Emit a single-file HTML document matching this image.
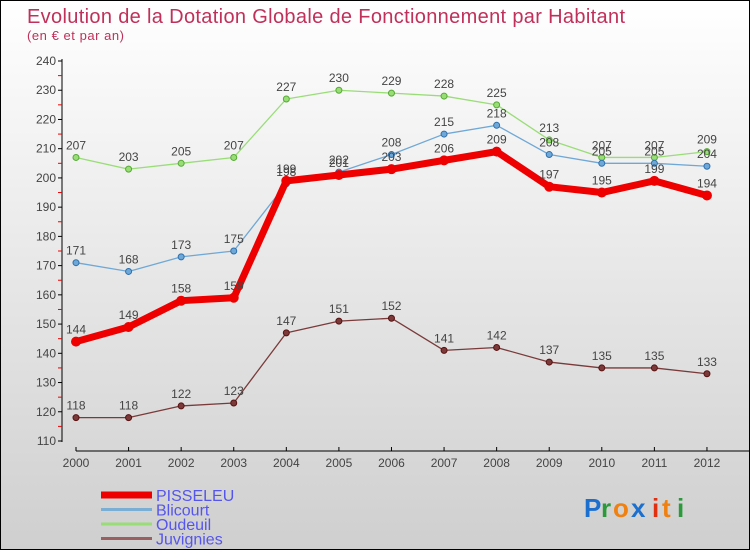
<!DOCTYPE html>
<html><head><meta charset="utf-8"><style>
body{margin:0}
#c{width:750px;height:550px;position:relative;box-sizing:border-box;border:1px solid #000;background:linear-gradient(#ffffff,#cfcfcf);font-family:"Liberation Sans",sans-serif;overflow:hidden}
svg{position:absolute;left:0;top:0}
</style></head><body>
<div id="c">
<svg id="s" width="750" height="550">
<text x="26" y="22" font-size="20" fill="#c0305a" textLength="598" lengthAdjust="spacing">Evolution de la Dotation Globale de Fonctionnement par Habitant</text>
<text x="26" y="39" font-size="13" fill="#c0305a" textLength="97">(en € et par an)</text>
<g id="axes"></g><g id="series"></g><g id="legend"></g>
<g font-size="26" font-weight="bold">
<text x="583" y="516" fill="#1a6fcf">P</text><text x="600" y="516" fill="#2a9a3a">r</text><text x="612" y="516" fill="#f08010">o</text><text x="630" y="516" fill="#1a6fcf">x</text><text x="651" y="516" fill="#e03010">i</text><text x="661" y="516" fill="#f08010">t</text><text x="676" y="516" fill="#2a9a3a">i</text>
</g>
</svg>
</div>
<script>
const years=["2000","2001","2002","2003","2004","2005","2006","2007","2008","2009","2010","2011","2012"];
const pisseleu=[144,149,158,159,199,201,203,206,209,197,195,199,194];
const blicourt=[171,168,173,175,198,202,208,215,218,208,205,205,204];
const oudeuil=[207,203,205,207,227,230,229,228,225,213,207,207,209];
const juvignies=[118,118,122,123,147,151,152,141,142,137,135,135,133];
const yTicks=[110,120,130,140,150,160,170,180,190,200,210,220,230,240];
const NS="http://www.w3.org/2000/svg";
function X(i){return 75+i*52.58;}
function Y(v){return 440-(v-110)*380/130;}
function mk(t,a,p){const e=document.createElementNS(NS,t);for(const k in a)e.setAttribute(k,a[k]);p.appendChild(e);return e;}
const ax=document.getElementById('axes');
let e=mk('line',{x1:61,y1:58,x2:61,y2:441,stroke:'#000'},ax);


yTicks.forEach(v=>{
 mk('line',{x1:57,y1:Y(v),x2:61,y2:Y(v),stroke:'#000'},ax);
 if(v<240) mk('line',{x1:57,y1:Y(v+5),x2:61,y2:Y(v+5),stroke:'#e00'},ax);
 const t=mk('text',{x:55,y:Y(v)+4,'text-anchor':'end','font-size':12,fill:'#444'},ax);
 t.textContent=v;
 
 
});
e=mk('line',{x1:75,y1:450,x2:750,y2:450,stroke:'#000'},ax);


years.forEach((y,i)=>{
 mk('line',{x1:X(i),y1:446,x2:X(i),y2:450,stroke:'#000'},ax);
 const t=mk('text',{x:X(i),y:466,'text-anchor':'middle','font-size':12,fill:'#444'},ax);
 t.textContent=y;
 
 
});
const sg=document.getElementById('series');
function draw(data,color,w,r,name,dark){
 const g=mk('g',{},sg);
 
 
 mk('polyline',{points:data.map((v,i)=>X(i)+','+Y(v)).join(' '),fill:'none',stroke:color,'stroke-width':w,'stroke-linejoin':'round'},g);
 data.forEach((v,i)=>{
  const c=mk('circle',{cx:X(i),cy:Y(v),r:r,fill:color,stroke:dark,'stroke-width':1},g);
  
  
  const t=mk('text',{x:X(i),y:Y(v)-8,'text-anchor':'middle','font-size':12,fill:'#444'},g);
  t.textContent=v;
  
  
 });
}
draw(juvignies,'#7a3a3a',1.3,3,'juvignies','#5a1010');
draw(oudeuil,'#99dd77',1.3,3,'oudeuil','#55aa33');
draw(blicourt,'#6fa8d6',1.3,3,'blicourt','#2a70b0');
draw(pisseleu,'#ee0000',7,4.5,'pisseleu','#ee0000');
const lg=document.getElementById('legend');
[["PISSELEU","#ee0000",7],["Blicourt","#7aaed4",3],["Oudeuil","#99dd77",3],["Juvignies","#9a6060",3]].forEach((d,i)=>{
 const yy=494+i*14.5;
 const g=mk('g',{},lg);
 
 
 mk('line',{x1:100,y1:yy,x2:151,y2:yy,stroke:d[1],'stroke-width':d[2]},g);
 const t=mk('text',{x:155,y:yy+6,'font-size':16,fill:'#5555ee'},g);
 t.textContent=d[0];
});
</script>
</body></html>
